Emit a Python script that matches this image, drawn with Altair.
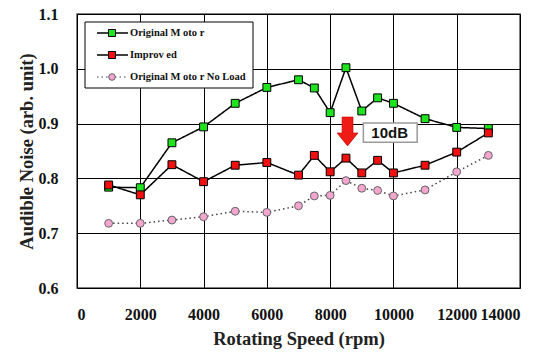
import altair as alt
import pandas as pd

# ---- data ----
speed = [1000, 2000, 3000, 4000, 5000, 6000, 7000, 7500, 8000, 8500,
         9000, 9500, 10000, 11000, 12000, 13000]
original_motor = [0.784, 0.783, 0.865, 0.894, 0.937, 0.966, 0.980, 0.965,
                  0.920, 1.002, 0.923, 0.947, 0.937, 0.909, 0.893, 0.891]
improved = [0.788, 0.770, 0.825, 0.794, 0.824, 0.829, 0.806, 0.842,
            0.812, 0.837, 0.810, 0.833, 0.810, 0.824, 0.848, 0.883]
no_load = [0.718, 0.718, 0.724, 0.730, 0.740, 0.738, 0.750, 0.768,
           0.769, 0.796, 0.782, 0.778, 0.768, 0.779, 0.812, 0.842]
series_names = ["Original Motor", "Improved", "Original Motor No Load"]
legend_labels = ["Original M oto r", "Improv ed", "Original M oto r No Load"]
x_ticks = [0, 2000, 4000, 6000, 8000, 10000, 12000, 14000]
y_ticks = [0.6, 0.7, 0.8, 0.9, 1.0, 1.1]

# annotation (arrow + "10dB" label)
arrow_speed = [8550]
arrow_noise = [0.8856]
box_speed = [9050]
box_speed2 = [10750]
box_noise = [0.901]
box_noise2 = [0.866]
label_speed = [9880]
label_noise = [0.8835]
label_text = ["10dB"]

# ---- styles ----
SERIF = "Liberation Serif, Times New Roman, serif"
fills = ["#1ee31e", "#f01010", "#f4a6cf"]
marker_strokes = ["#000000", "#000000", "#666666"]
shapes = ["square", "square", "circle"]
sizes = [62, 62, 55]
line_colors = ["#000000", "#000000", "#444444"]
line_dashes = [[1, 0], [1, 0], [1.5, 3]]
line_widths = [1.5, 1.5, 1.0]

rows = []
for name, vals in zip(series_names, [original_motor, improved, no_load]):
    for s, v in zip(speed, vals):
        rows.append({"speed": s, "noise": v, "series": name})
df = pd.DataFrame(rows)

xscale = alt.Scale(domain=[0, 14000], nice=False, zero=False)
yscale = alt.Scale(domain=[0.6, 1.1], nice=False, zero=False)
X = alt.X("speed:Q", scale=xscale,
          axis=alt.Axis(values=x_ticks, title="Rotating Speed (rpm)",
                        labelPadding=18, titlePadding=7, format="d"))
Y = alt.Y("noise:Q", scale=yscale,
          axis=alt.Axis(values=y_ticks, title="Audible Noise (arb. unit)",
                        format=".1f", labelPadding=19, titlePadding=2))

lines = alt.Chart(df).mark_line().encode(
    x=X, y=Y,
    color=alt.Color("series:N", scale=alt.Scale(domain=series_names, range=line_colors), legend=None),
    strokeDash=alt.StrokeDash("series:N", scale=alt.Scale(domain=series_names, range=line_dashes), legend=None),
    strokeWidth=alt.StrokeWidth("series:N", scale=alt.Scale(domain=series_names, range=line_widths), legend=None),
    detail="series:N",
    order="speed:Q",
)

points = alt.Chart(df).mark_point(opacity=1, fillOpacity=1, strokeWidth=1).encode(
    x=X, y=Y,
    fill=alt.Fill("series:N", scale=alt.Scale(domain=series_names, range=fills), legend=None),
    stroke=alt.Stroke("series:N", scale=alt.Scale(domain=series_names, range=marker_strokes), legend=None),
    shape=alt.Shape("series:N", scale=alt.Scale(domain=series_names, range=shapes), legend=None),
    size=alt.Size("series:N", scale=alt.Scale(domain=series_names, range=sizes), legend=None),
)

# arrow
arrow_path = "M-0.52,-1.38 L0.52,-1.38 L0.52,0.14 L1,0.14 L0,1.38 L-1,0.14 L-0.52,0.14 Z"
arrow = alt.Chart(pd.DataFrame({"speed": arrow_speed, "noise": arrow_noise})).mark_point(
    shape=arrow_path, size=441, filled=True, fill="#ee1c14", stroke="#c00000",
    strokeWidth=0.6, opacity=1
).encode(x=alt.X("speed:Q", scale=xscale), y=alt.Y("noise:Q", scale=yscale))

box = alt.Chart(pd.DataFrame({"speed": box_speed, "speed2": box_speed2,
                              "noise": box_noise, "noise2": box_noise2})).mark_rect(
    fill="white", stroke="#9a9a9a", strokeWidth=1.5
).encode(x=alt.X("speed:Q", scale=xscale), x2="speed2:Q",
         y=alt.Y("noise:Q", scale=yscale), y2="noise2:Q")

label = alt.Chart(pd.DataFrame({"speed": label_speed, "noise": label_noise, "t": label_text})).mark_text(
    font="Liberation Sans", fontWeight="bold", fontSize=15, color="#111", align="center", baseline="middle"
).encode(x=alt.X("speed:Q", scale=xscale), y=alt.Y("noise:Q", scale=yscale), text="t:N")

# ---- hand-drawn legend (pixel layout inside the plot area) ----
one = pd.DataFrame({"a": [0]})
leg_box = alt.Chart(one).mark_rect(fill="white", stroke="#000", strokeWidth=1).encode(
    x=alt.value(8), x2=alt.value(176), y=alt.value(8), y2=alt.value(74))
leg_layers = [leg_box]
row_y = [19, 41, 63]
for i in range(3):
    leg_layers.append(alt.Chart(one).mark_rule(
        color=line_colors[i], strokeWidth=line_widths[i], strokeDash=line_dashes[i]
    ).encode(x=alt.value(20), x2=alt.value(51), y=alt.value(row_y[i])))
    leg_layers.append(alt.Chart(one).mark_point(
        shape=shapes[i], size=sizes[i] * 0.8, fill=fills[i], stroke=marker_strokes[i],
        strokeWidth=1, opacity=1, fillOpacity=1
    ).encode(x=alt.value(35), y=alt.value(row_y[i])))
    leg_layers.append(alt.Chart(one).mark_text(
        text=legend_labels[i], font=SERIF, fontWeight="bold", fontSize=10.5,
        color="#111", align="left", baseline="middle"
    ).encode(x=alt.value(53), y=alt.value(row_y[i])))

chart = alt.layer(lines, points, *leg_layers, arrow, box, label).properties(
    width=443, height=274,
    autosize=alt.AutoSizeParams(type="none"),
    padding={"left": 77, "top": 14, "right": 28, "bottom": 64},
    background="white",
).configure_view(
    stroke="#555555", strokeWidth=1.5
).configure_axis(
    grid=True, gridColor="#000000", gridOpacity=1, gridWidth=1,
    domain=False, ticks=False,
    labelFont=SERIF, labelFontWeight="bold", labelFontSize=16, labelColor="#111",
    titleFont=SERIF, titleFontWeight="bold", titleFontSize=18.5, titleColor="#222",
)

chart.save("out.html", embed_options={"renderer": "svg", "actions": False})
